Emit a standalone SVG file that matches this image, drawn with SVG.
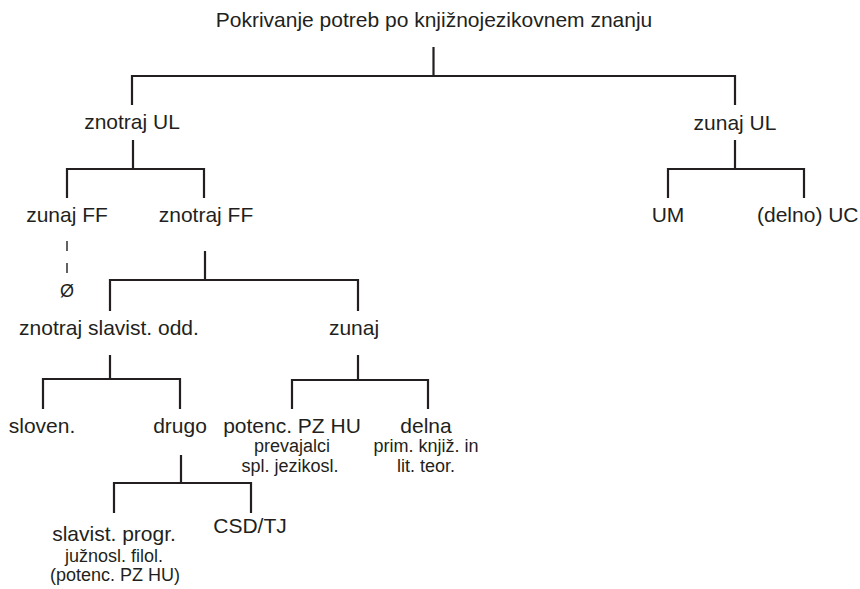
<svg xmlns="http://www.w3.org/2000/svg" width="860" height="589" viewBox="0 0 860 589">
<style>
text{font-family:"Liberation Sans",Arial,sans-serif;fill:#231f20;text-anchor:middle}
.m{font-size:21px}
.s{font-size:18px}
.c path{fill:none;stroke:#231f20;stroke-width:2.2}
.c .d{stroke-width:1.4;stroke-dasharray:10 12}
</style>
<rect width="860" height="589" fill="#fff"/>
<g class="c" id="connectors">
<path d="M433.5 47V76M132 105V76H735V105"/>
<path d="M133 140V169M67 198V169H204V198"/>
<path d="M735 140V169M668 198V169H804V198"/>
<path class="d" d="M67 241V273"/>
<path d="M205 251V280M110 311V280H358V311"/>
<path d="M110 355V379M43 409V379H180V409"/>
<path d="M358 355V380M292 409V380H428V409"/>
<path d="M181 455V483M114 513V483H251V513"/>
</g>
<g id="n-root"><text class="m" x="434" y="27">Pokrivanje potreb po knjižnojezikovnem znanju</text></g>
<g id="n-znotrajUL"><text class="m" x="132" y="129">znotraj UL</text></g>
<g id="n-zunajUL"><text class="m" x="735" y="130">zunaj UL</text></g>
<g id="n-zunajFF"><text class="m" x="67" y="222">zunaj FF</text></g>
<g id="n-znotrajFF"><text class="m" x="206" y="222">znotraj FF</text></g>
<g id="n-UM"><text class="m" x="668" y="222">UM</text></g>
<g id="n-UC"><text class="m" x="757" y="222" style="text-anchor:start">(delno) UC</text></g>
<g id="n-empty"><text x="67" y="297" style="font-size:18px">Ø</text></g>
<g id="n-slavodd"><text class="m" x="109" y="335">znotraj slavist. odd.</text></g>
<g id="n-zunaj"><text class="m" x="354" y="335">zunaj</text></g>
<g id="n-sloven"><text class="m" x="42" y="433">sloven.</text></g>
<g id="n-drugo"><text class="m" x="180" y="433">drugo</text></g>
<g id="n-potenc"><text class="m" x="292" y="433">potenc. PZ HU</text><text class="s" x="292" y="452">prevajalci</text><text class="s" x="290" y="472">spl. jezikosl.</text></g>
<g id="n-delna"><text class="m" x="426" y="433">delna</text><text class="s" x="426" y="452">prim. knjiž. in</text><text class="s" x="426" y="472">lit. teor.</text></g>
<g id="n-slavprogr"><text class="m" x="114" y="541">slavist. progr.</text><text class="s" x="114" y="562">južnosl. filol.</text><text class="s" x="115" y="581">(potenc. PZ HU)</text></g>
<g id="n-csd"><text class="m" x="250" y="533">CSD/TJ</text></g>
</svg>
